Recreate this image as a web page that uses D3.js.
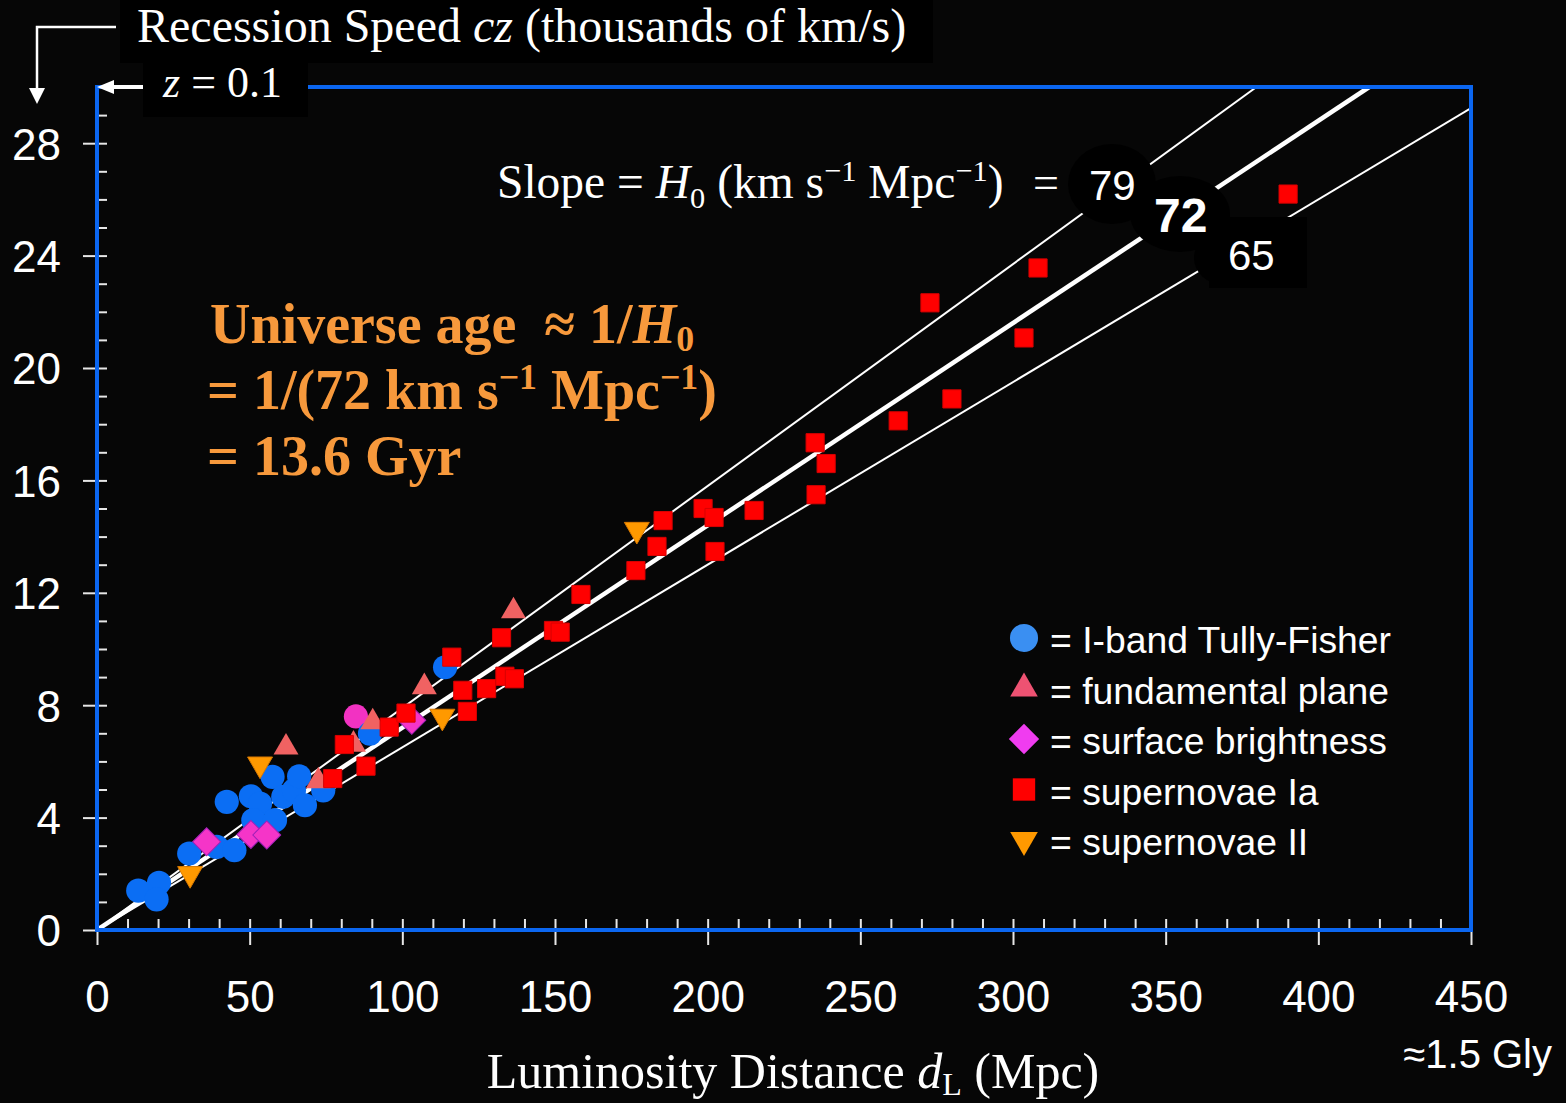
<!DOCTYPE html>
<html>
<head>
<meta charset="utf-8">
<script src="https://cdn.jsdelivr.net/npm/d3@7"></script>
<style>
  html, body { margin: 0; padding: 0; background: #060606; }
  svg { display: block; }
</style>
</head>
<body>
<svg id="chart" width="1566" height="1103"></svg>
<script>
// Valores: [distancia (Mpc), velocidad (miles de km/s)]
var tullyFisher = [[13.5, 1.40], [20.3, 1.68], [19.5, 1.09], [30.2, 2.72], [39.2, 2.96], [45.0, 2.84],
  [42.5, 4.56], [50.4, 4.76], [53.4, 4.50], [57.5, 5.45], [61.0, 4.74], [64.5, 4.97], [66.2, 5.47],
  [68.1, 4.44], [51.2, 3.91], [58.3, 3.91], [74.1, 4.97], [89.4, 6.99], [114.0, 9.35]];
var otherPink = [[84.8, 7.60]];
var fundamentalPlane = [[61.9, 6.50], [72.5, 5.30], [84.0, 6.60], [90.3, 7.40], [107.2, 8.65], [136.4, 11.35]];
var surfaceBrightness = [[35.9, 3.14], [50.4, 3.40], [55.6, 3.38], [103.1, 7.46]];
var supernovaeIa = [[77.2, 5.39], [81.0, 6.60], [88.1, 5.83], [95.7, 7.22], [101.2, 7.72], [116.2, 9.71],
  [119.8, 8.53], [121.3, 7.78], [127.6, 8.59], [132.5, 10.40], [133.6, 9.03], [136.7, 8.94],
  [149.5, 10.66], [151.7, 10.60], [158.5, 11.94], [176.5, 12.79], [183.4, 13.65], [185.4, 14.57],
  [198.5, 15.00], [202.1, 14.68], [202.4, 13.47], [215.2, 14.93], [235.2, 17.34], [238.8, 16.60],
  [235.5, 15.49], [262.4, 18.12], [272.8, 22.32], [280.0, 18.90], [303.6, 21.07], [308.2, 23.56],
  [390.1, 26.19]];
var supernovaeII = [[30.5, 2.00], [53.4, 5.90], [113.1, 7.60], [176.8, 14.25]];

var slopes = [79, 72, 65];
var legendLabels = ['= I-band Tully-Fisher', '= fundamental plane', '= surface brightness', '= supernovae Ia', '= supernovae II'];
var xMajor = [0, 50, 100, 150, 200, 250, 300, 350, 400, 450];
var yMajor = [0, 4, 8, 12, 16, 20, 24, 28];

var SANS = '"Liberation Sans", Arial, sans-serif';
var SERIF = '"Liberation Serif", "Times New Roman", serif';

var svg = d3.select('#chart');
var margin = { left: 97, right: 95, top: 87, bottom: 173 };
var W = 1566, H = 1103;

var x = d3.scaleLinear().domain([0, 450]).range([margin.left, W - margin.right]);
var y = d3.scaleLinear().domain([0, 30]).range([H - margin.bottom, margin.top]);

svg.append('defs').append('clipPath').attr('id', 'plotclip')
  .append('rect')
  .attr('x', x(0)).attr('y', y(30))
  .attr('width', x(450) - x(0)).attr('height', y(0) - y(30));

// Ejes: menores hacia dentro, mayores hacia fuera
var tickColor = '#e6e6e6';

var xMinor = svg.append('g').attr('transform', 'translate(0,' + y(0) + ')')
  .call(d3.axisBottom(x).tickValues(d3.range(0, 451, 10)).tickSize(-11).tickFormat(''));
var xMaj = svg.append('g').attr('transform', 'translate(0,' + y(0) + ')')
  .call(d3.axisBottom(x).tickValues(xMajor).tickSize(15).tickPadding(40));
var yMinor = svg.append('g').attr('transform', 'translate(' + x(0) + ',0)')
  .call(d3.axisLeft(y).tickValues(d3.range(0, 30, 1)).tickSize(-10).tickFormat(''));
var yMaj = svg.append('g').attr('transform', 'translate(' + x(0) + ',0)')
  .call(d3.axisLeft(y).tickValues(yMajor).tickSize(14).tickPadding(22));

[xMinor, xMaj, yMinor, yMaj].forEach(function (g) {
  g.select('.domain').remove();
  g.selectAll('line').attr('stroke', tickColor).attr('stroke-width', 2);
  g.selectAll('text').attr('fill', '#fff').attr('font-family', SANS).attr('font-size', 44);
});
xMaj.selectAll('text').attr('dy', '0.62em');
yMaj.selectAll('text').attr('dy', '0.36em');

// Lineas de Hubble
var plot = svg.append('g').attr('clip-path', 'url(#plotclip)');
var hubble = d3.line().x(function (d) { return x(d[0]); }).y(function (d) { return y(d[1]); });

plot.selectAll('path.hub')
  .data(slopes)
  .enter()
  .append('path')
  .attr('class', 'hub')
  .attr('d', function (h) {
    var dEnd = Math.min(450, 30000 / h);
    return hubble([[0, 0], [dEnd, h * dEnd / 1000]]);
  })
  .attr('fill', 'none')
  .attr('stroke', '#fff')
  .attr('stroke-width', function (h) { return h === 72 ? 4.5 : 2; });

// Manchas negras detras de las etiquetas de pendiente
var blobs = svg.append('g').attr('fill', '#000');
blobs.append('ellipse').attr('cx', 1112).attr('cy', 184).attr('rx', 44).attr('ry', 40);
blobs.append('ellipse').attr('cx', 1180).attr('cy', 214).attr('rx', 50).attr('ry', 38);
blobs.append('ellipse').attr('cx', 1222).attr('cy', 258).attr('rx', 28).attr('ry', 26);
blobs.append('rect').attr('x', 1209).attr('y', 217).attr('width', 98).attr('height', 71);

// Marcadores
var sym = d3.symbol();
function drawPoints(data, type, size, fill, stroke, rot) {
  plot.append('g').selectAll('path')
    .data(data)
    .enter()
    .append('path')
    .attr('transform', function (d) {
      return 'translate(' + x(d[0]) + ',' + y(d[1]) + ')' + (rot ? ' rotate(' + rot + ')' : '');
    })
    .attr('d', sym.type(type).size(size)())
    .attr('fill', fill)
    .attr('stroke', stroke || 'none')
    .attr('stroke-width', 1);
}

drawPoints(otherPink, d3.symbolCircle, 460, '#f232c2');
drawPoints(tullyFisher, d3.symbolCircle, 460, '#0b6ef4');
drawPoints(fundamentalPlane, d3.symbolTriangle, 270, '#f06262');
drawPoints(surfaceBrightness, d3.symbolSquare, 390, '#f535c8', '#a020b8', 45);
drawPoints(supernovaeIa, d3.symbolSquare, 330, '#ff0000', '#d80000');
drawPoints(supernovaeII, d3.symbolTriangle, 270, '#ff9900', '#d87800', 180);

// Marco azul
svg.append('rect')
  .attr('x', x(0)).attr('y', y(30))
  .attr('width', x(450) - x(0)).attr('height', y(0) - y(30))
  .attr('fill', 'none').attr('stroke', '#0b66f0').attr('stroke-width', 4);

// Texto con super/subindices
function rich(sel, px, py, parts, size, family, fill, weight, anchor, subShift) {
  var t = sel.append('text').attr('x', px).attr('y', py)
    .attr('font-family', family).attr('font-size', size)
    .attr('fill', fill).attr('font-weight', weight || 'normal')
    .attr('text-anchor', anchor || 'start')
    .style('white-space', 'pre');
  var shift = 0;
  parts.forEach(function (p) {
    var ts = t.append('tspan').text(p[0]);
    var want = p[1] === 'sup' ? -0.36 * size : (p[1] === 'sub' ? (subShift || 0.2) * size : 0);
    if (want !== shift) { ts.attr('dy', want - shift); shift = want; }
    if (p[1] === 'sup' || p[1] === 'sub') ts.attr('font-size', size * 0.64);
    if (p[1] === 'i') ts.attr('font-style', 'italic');
  });
  return t;
}

// Cajas de titulo
svg.append('rect').attr('x', 120).attr('y', 0).attr('width', 813).attr('height', 63).attr('fill', '#000');
svg.append('rect').attr('x', 143).attr('y', 62).attr('width', 165).attr('height', 55).attr('fill', '#000');

rich(svg, 137, 42, [['Recession Speed '], ['cz', 'i'], [' (thousands of km/s)']], 48, SERIF, '#fff');
rich(svg, 163, 97, [['z', 'i'], [' = 0.1']], 44, SERIF, '#fff');

// Flechas
var arrows = svg.append('g').attr('fill', '#fff').attr('stroke', '#fff');
arrows.append('path').attr('d', 'M116,27 H37 V90').attr('fill', 'none').attr('stroke-width', 2.5);
arrows.append('path').attr('d', 'M29,88 L45,88 L37,104 Z').attr('stroke', 'none');
arrows.append('path').attr('d', 'M143,87 H110').attr('fill', 'none').attr('stroke-width', 4);
arrows.append('path').attr('d', 'M97,87 L114,80 L114,94 Z').attr('stroke', 'none');

// Pendiente
rich(svg, 497, 198, [['Slope = '], ['H', 'i'], ['0', 'sub'], [' (km s'], ['\u22121', 'sup'], [' Mpc'], ['\u22121', 'sup'], [')']], 47.5, SERIF, '#fff');
svg.append('text').attr('x', 1033).attr('y', 198).attr('font-family', SERIF).attr('font-size', 46).attr('fill', '#fff').text('=');
svg.append('text').attr('x', 1089).attr('y', 200).attr('font-family', SANS).attr('font-size', 42).attr('fill', '#fff').text(slopes[0]);
svg.append('text').attr('x', 1154).attr('y', 232).attr('font-family', SANS).attr('font-size', 48).attr('font-weight', 900).attr('fill', '#fff').text(slopes[1]);
svg.append('text').attr('x', 1228).attr('y', 270).attr('font-family', SANS).attr('font-size', 42).attr('fill', '#fff').text(slopes[2]);

// Edad del universo
var orange = '#f7993c';
rich(svg, 210, 343, [['Universe age  \u2248 1/'], ['H', 'i'], ['0', 'sub']], 56, SERIF, orange, 'bold', 'start', 0.15);
rich(svg, 207, 409, [['= 1/(72 km s'], ['\u22121', 'sup'], [' Mpc'], ['\u22121', 'sup'], [')']], 56, SERIF, orange, 'bold');
rich(svg, 207, 475, [['= 13.6 Gyr']], 56, SERIF, orange, 'bold');

// Leyenda
var legendSyms = [
  { type: d3.symbolCircle, size: 620, fill: '#3a8ff2', rot: 0 },
  { type: d3.symbolTriangle, size: 330, fill: '#ee5272', rot: 0 },
  { type: d3.symbolSquare, size: 460, fill: '#f03cf0', rot: 45 },
  { type: d3.symbolSquare, size: 500, fill: '#ff0000', rot: 0 },
  { type: d3.symbolTriangle, size: 330, fill: '#ff9900', rot: 180 }
];
var legend = svg.append('g').selectAll('g')
  .data(legendLabels)
  .enter()
  .append('g')
  .attr('transform', function (d, i) { return 'translate(1024,' + (638 + i * 50.5) + ')'; });
legend.append('path')
  .attr('d', function (d, i) { return sym.type(legendSyms[i].type).size(legendSyms[i].size)(); })
  .attr('transform', function (d, i) { return 'rotate(' + legendSyms[i].rot + ')'; })
  .attr('fill', function (d, i) { return legendSyms[i].fill; });
legend.append('text')
  .attr('x', 26).attr('y', 15)
  .attr('font-family', SANS).attr('font-size', 37.3).attr('fill', '#fff')
  .text(function (d) { return d; });

// Titulo eje X
rich(svg, 793, 1088, [['Luminosity Distance '], ['d', 'i'], ['L', 'sub'], [' (Mpc)']], 50, SERIF, '#fff', 'normal', 'middle', 0.14);
svg.append('text').attr('x', 1552).attr('y', 1068).attr('text-anchor', 'end')
  .attr('font-family', SANS).attr('font-size', 40).attr('fill', '#fff').text('\u22481.5 Gly');
</script>
</body>
</html>
